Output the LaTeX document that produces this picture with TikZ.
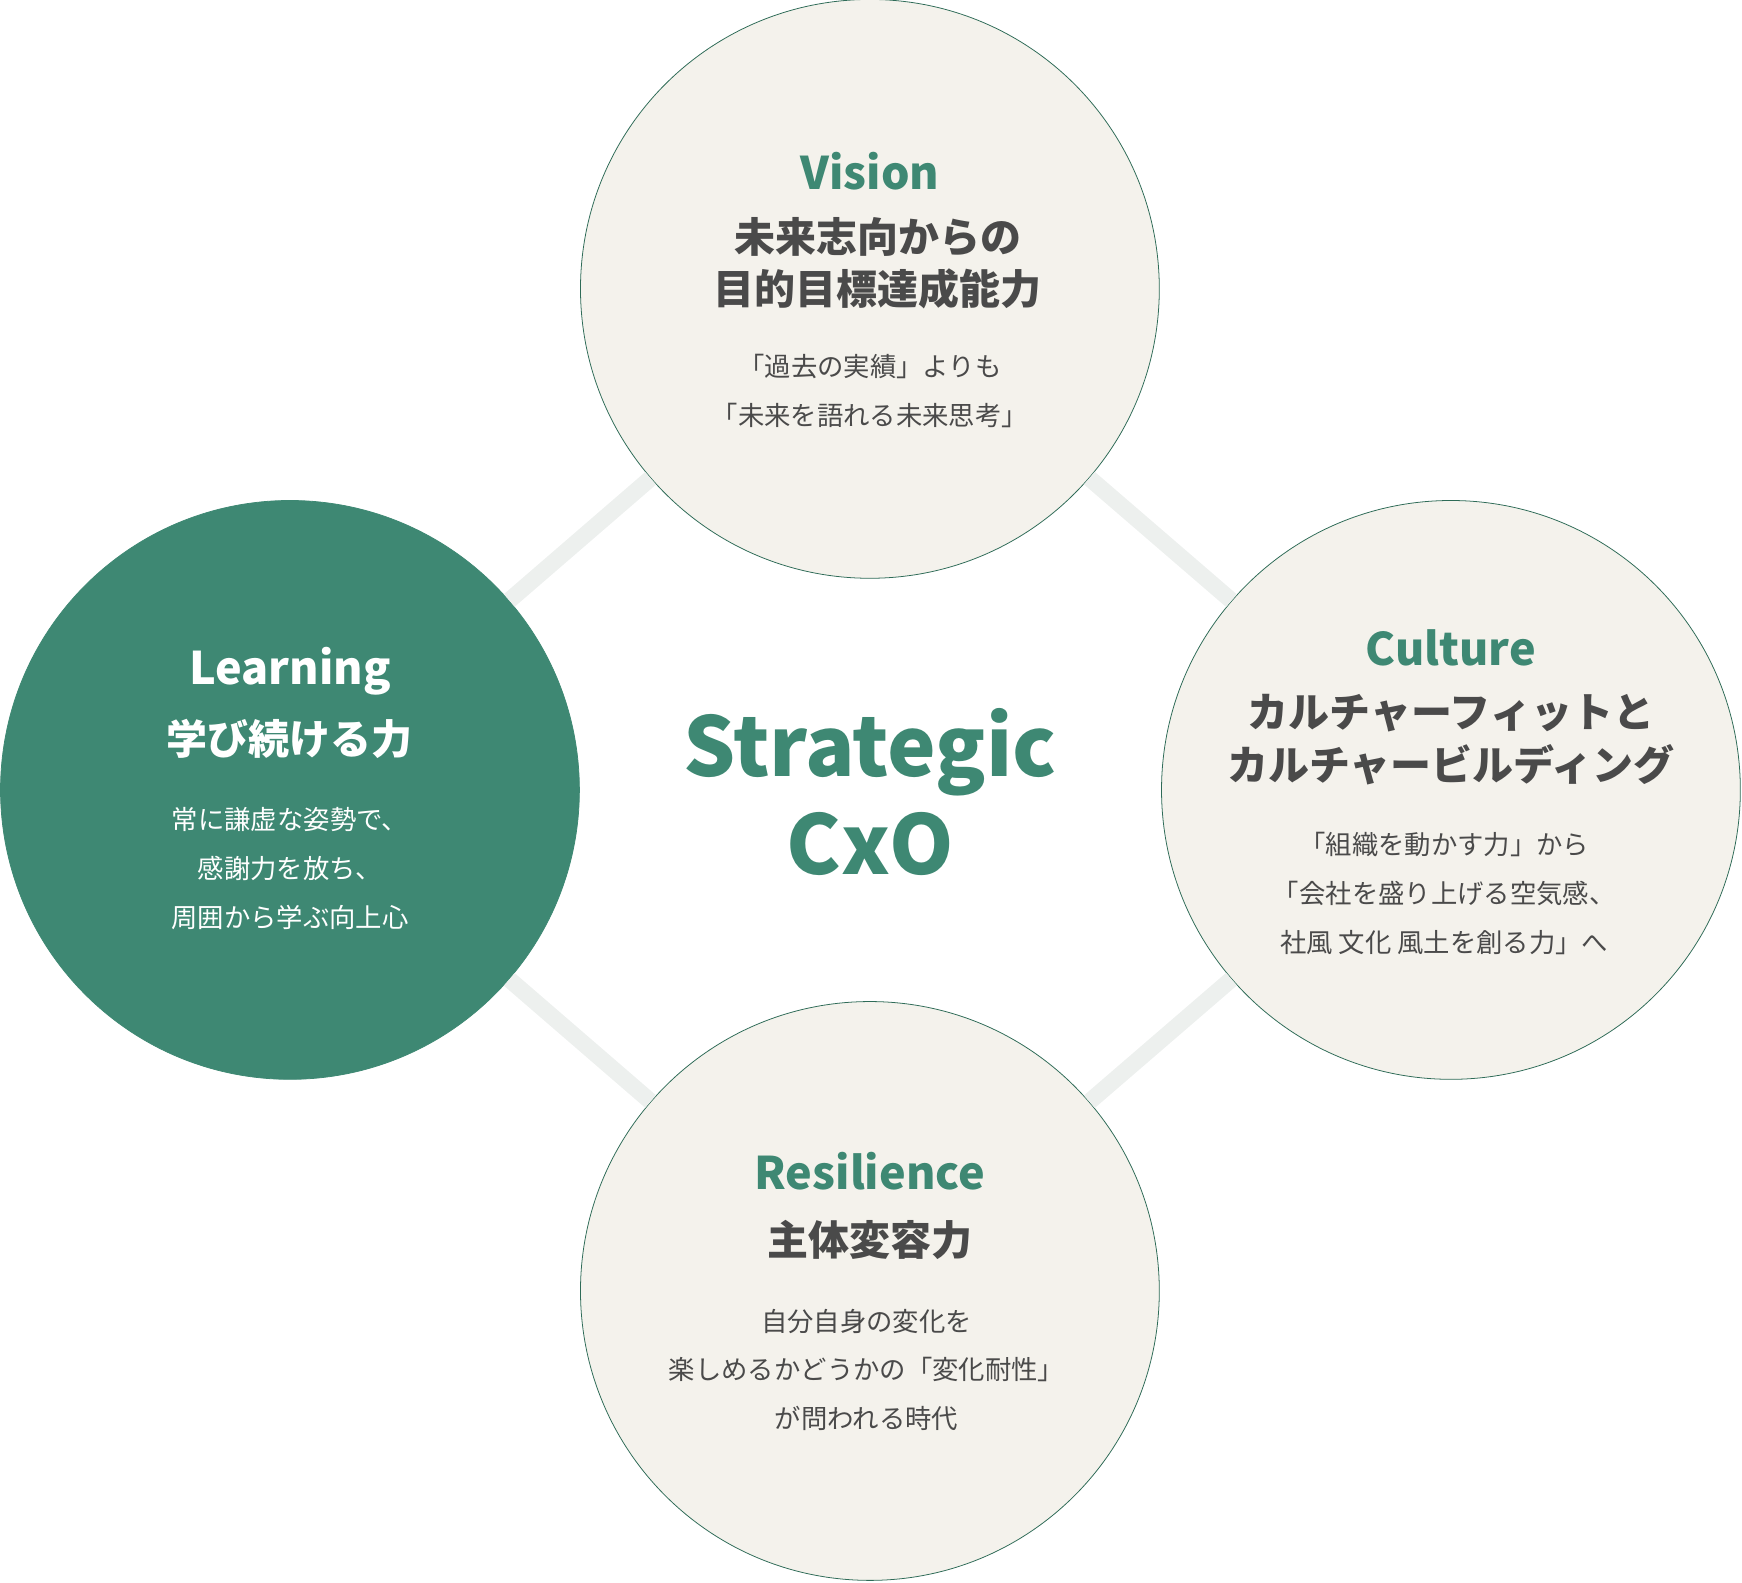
\documentclass[tikz,border=0pt]{standalone}
\usepackage{fontspec}
\setmainfont{Noto Sans CJK JP}
\definecolor{cxogreen}{HTML}{3E8873}
\definecolor{cxoline}{HTML}{2E6B57}
\definecolor{cxocream}{HTML}{F4F2EC}
\definecolor{cxotext}{HTML}{4A4A4A}
\definecolor{cxolink}{HTML}{EDF0EE}
\begin{document}
\begin{tikzpicture}[x=0.02cm,y=-0.02cm,
    pillar/.style ={circle, draw=cxoline, fill=cxocream, minimum size=521*0.02cm, inner sep=0pt},
    link/.style ={line width=8.5pt, cxolink},
    heading/.style ={font=\fontsize{23}{26}\selectfont\bfseries, text=cxogreen},
    subject/.style ={font=\fontsize{21}{27}\selectfont\bfseries, text=cxotext, align=center},
    note/.style ={font=\fontsize{13.5}{25}\selectfont, text=cxotext, align=center}]
   \useasboundingbox (0,0) rectangle (1568,1424);

   \node[pillar] (V) at (783,260) {};
   \node[pillar,fill=cxogreen,draw=cxogreen] (L) at (261,711) {};
   \node[pillar] (C) at (1306,711) {};
   \node[pillar] (R) at (783,1162) {};

   \begin{scope}[on background layer/.style={}]
   \end{scope}
   \draw[link] (V) to (C);
   \draw[link] (C) to (R);
   \draw[link] (R) to (L);
   \draw[link] (L) to (V);

   \node[heading] (Vh) at (783,154) {Vision};
   \node[subject] (Vs) at (790,237) {未来志向からの\\目的目標達成能力};
   \node[note] (Vn) at (783,352) {「過去の実績」よりも\\「未来を語れる未来思考」};

   \node[heading,text=white] (Lh) at (261,604) {Learning};
   \node[subject,text=white] (Ls) at (261,665) {学び続ける力};
   \node[note,text=white] (Ln) at (261,782) {常に謙虚な姿勢で、\\感謝力を放ち、\\周囲から学ぶ向上心};

   \node[heading] (Ch) at (1306,583) {Culture};
   \node[subject] (Cs) at (1306,666) {カルチャーフィットと\\カルチャービルディング};
   \node[note] (Cn) at (1300,804) {「組織を動かす力」から\\「会社を盛り上げる空気感、\\社風 文化 風土を創る力」へ};

   \node[heading] (Rh) at (783,1054) {Resilience};
   \node[subject] (Rs) at (783,1116) {主体変容力};
   \node[note] (Rn) at (780,1233) {自分自身の変化を\\楽しめるかどうかの「変化耐性」\\が問われる時代};

   \node[font=\fontsize{42}{50}\selectfont\bfseries, text=cxogreen, align=center] (S) at (783,713) {Strategic\\CxO};
\end{tikzpicture}
\end{document}
